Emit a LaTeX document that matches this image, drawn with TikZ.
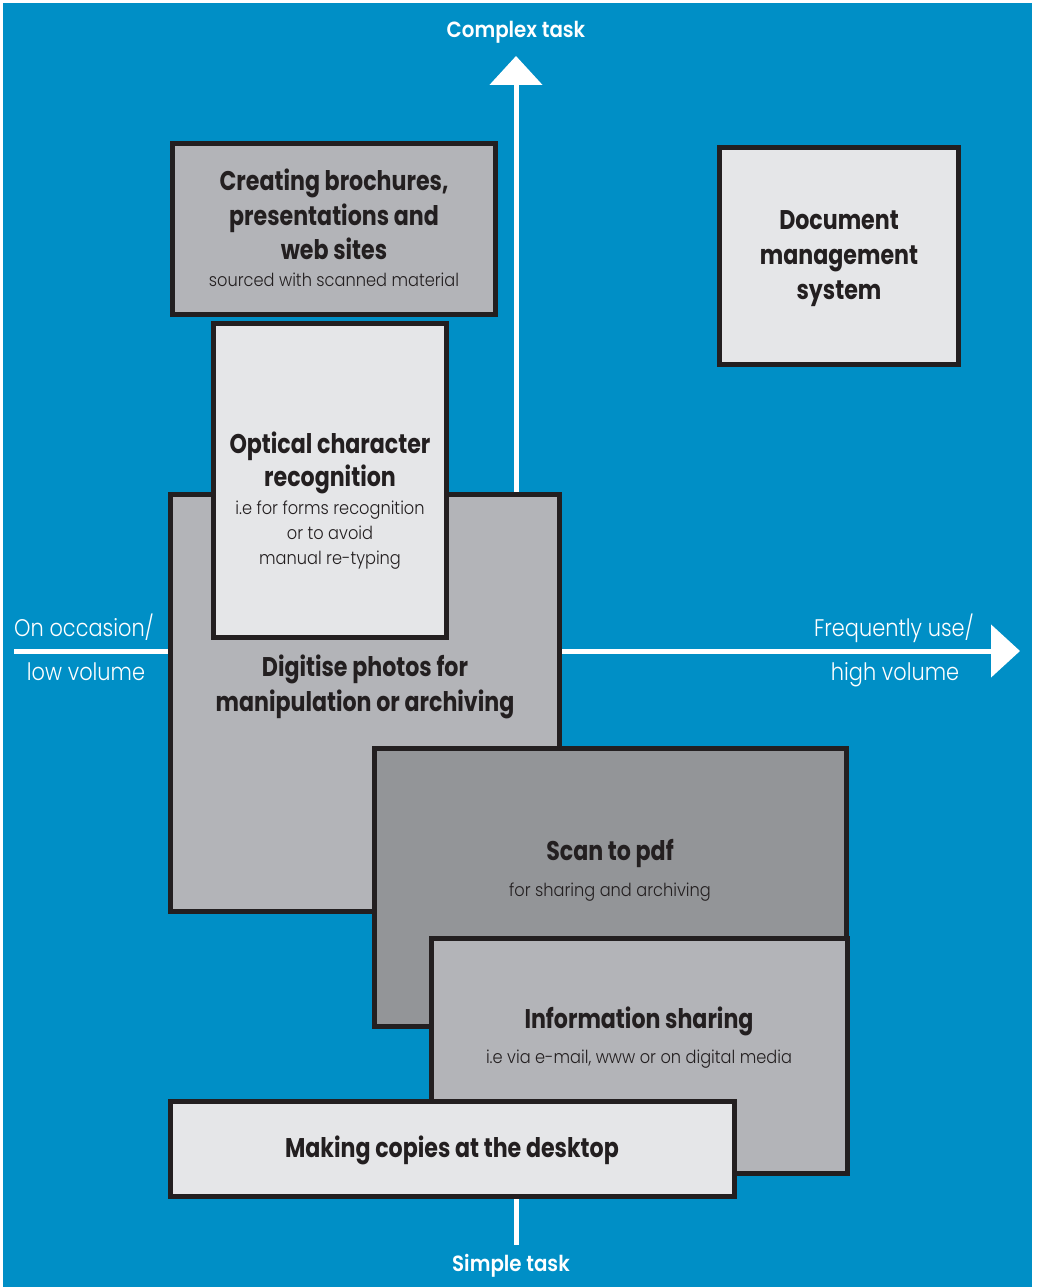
\documentclass[tikz,border=0pt]{standalone}
\usepackage{fontspec}
\setmainfont{Poppins}
\usetikzlibrary{arrows.meta}
\newfontfamily\hdfont[FakeStretch=0.82]{Poppins Bold}
\newfontfamily\axbfont[FakeStretch=0.90]{Poppins SemiBold}
\newfontfamily\ltfont[FakeStretch=0.90]{Poppins Light}
\newfontfamily\axfont[FakeStretch=0.87]{Poppins Light}
\definecolor{bgblue}{HTML}{008FC6}
\definecolor{edgec}{HTML}{231F20}
\definecolor{fillA}{HTML}{E5E6E8}
\definecolor{fillB}{HTML}{B3B4B8}
\definecolor{fillC}{HTML}{939598}
\begin{document}
\begin{tikzpicture}[x=1pt,y=-1pt,
  box/.style={draw=edgec, line width=5pt, inner sep=0pt, outer sep=0pt},
  axisline/.style={draw=white, line width=5pt, -{Triangle[width=52pt,length=29pt]}},
  headtxt/.style={anchor=base, text=edgec, inner sep=0pt, font=\hdfont\fontsize{27}{33}\selectfont},
  subtxt/.style={anchor=base, text=edgec, inner sep=0pt, font=\ltfont\fontsize{18}{22}\selectfont},
  axtxt/.style={anchor=base, text=white, inner sep=0pt, font=\axfont\fontsize{24}{28}\selectfont},
  axbtxt/.style={anchor=base, text=white, inner sep=0pt, font=\axbfont\fontsize{22}{26}\selectfont}
]
\useasboundingbox (0,0) rectangle (1037,1287);
\fill[white] (0,0) rectangle (1037,1287);
\fill[bgblue] (3,3) rectangle (1032,1287);

% axes
\coordinate (ybot) at (516,1245);
\coordinate (ytop) at (516,56);
\coordinate (xleft) at (14,651);
\coordinate (xright) at (1020,651);
\draw[axisline] (ybot) -- (ytop);
\draw[axisline] (xleft) -- (xright);

% boxes
\node[box, fill=fillB, minimum width=389pt, minimum height=417pt] (digi) at (365,703) {};
\node[box, fill=fillA, minimum width=233pt, minimum height=314pt] (ocr) at (330,480.5) {};
\node[box, fill=fillB, minimum width=323pt, minimum height=171pt] (broch) at (334,229) {};
\node[box, fill=fillA, minimum width=239pt, minimum height=217pt] (dms) at (839,256) {};
\node[box, fill=fillC, minimum width=472pt, minimum height=278pt] (scan) at (610.5,887.5) {};
\node[box, fill=fillB, minimum width=416pt, minimum height=235pt] (info) at (639.5,1056) {};
\node[box, fill=fillA, minimum width=564pt, minimum height=95pt] (copy) at (452.5,1149) {};

% box texts
\node[headtxt] (b1) at (334,190) {Creating brochures,};
\node[headtxt] (b2) at (334,225) {presentations and};
\node[headtxt] (b3) at (334,259) {web sites};
\node[subtxt] (b4) at (334,286) {sourced with scanned material};

\node[headtxt] (o1) at (330,453) {Optical character};
\node[headtxt] (o2) at (330,486) {recognition};
\node[subtxt] (o3) at (330,514) {i.e for forms recognition};
\node[subtxt] (o4) at (330,539) {or to avoid};
\node[subtxt] (o5) at (330,564) {manual re-typing};

\node[headtxt] (d1) at (365,676) {Digitise photos for};
\node[headtxt] (d2) at (365,711) {manipulation or archiving};

\node[headtxt] (m1) at (839,229) {Document};
\node[headtxt] (m2) at (839,264) {management};
\node[headtxt] (m3) at (839,299) {system};

\node[headtxt] (s1) at (610,860) {Scan to pdf};
\node[subtxt] (s2) at (610,896) {for sharing and archiving};

\node[headtxt] (i1) at (639,1028) {Information sharing};
\node[subtxt] (i2) at (639,1063) {i.e via e-mail, www or on digital media};

\node[headtxt] (c1) at (452,1157) {Making copies at the desktop};

% axis labels
\node[axbtxt] (lt) at (516,38) {Complex task};
\node[axbtxt] (lb) at (511,1271) {Simple task};
\node[axtxt, anchor=base west] (ll1) at (14,636) {On occasion/};
\node[axtxt] (ll2) at (86,680) {low volume};
\node[axtxt] (lr1) at (894,636) {Frequently use/};
\node[axtxt] (lr2) at (895,680) {high volume};
\end{tikzpicture}
\end{document}
